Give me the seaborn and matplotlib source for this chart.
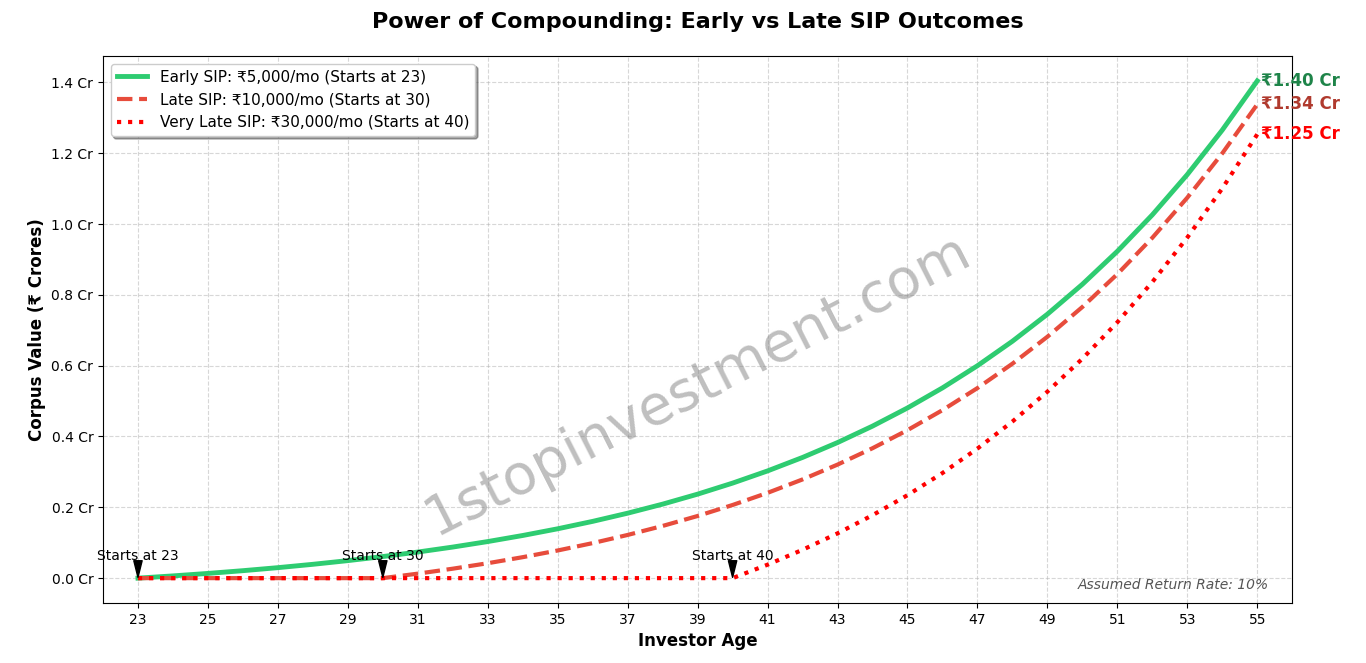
import matplotlib
matplotlib.use("Agg")
import matplotlib.pyplot as plt
import seaborn as sns
import pandas as pd

ages = list(range(23, 56))

early_sip = [0.0, 0.00634, 0.01333, 0.02106, 0.02961, 0.03904, 0.04946, 0.06098,
             0.07370, 0.08775, 0.10328, 0.12043, 0.13937, 0.16030, 0.18342, 0.20896,
             0.23718, 0.26835, 0.30278, 0.34082, 0.38285, 0.42927, 0.48056, 0.53721,
             0.59980, 0.66894, 0.74532, 0.82971, 0.92292, 1.02590, 1.13966, 1.26533,
             1.40416]

late_sip = [0.0, 0.0, 0.0, 0.0, 0.0, 0.0, 0.0, 0.0,
            0.01267, 0.02667, 0.04213, 0.05921, 0.07808, 0.09893, 0.12196, 0.14740,
            0.17550, 0.20655, 0.24085, 0.27874, 0.32060, 0.36684, 0.41792, 0.47436,
            0.53670, 0.60557, 0.68165, 0.76570, 0.85854, 0.96111, 1.07443, 1.19960,
            1.33789]

very_late_sip = [0.0] * 18 + [0.03801, 0.08000, 0.12639, 0.17764, 0.23425, 0.29679,
                              0.36587, 0.44220, 0.52651, 0.61965, 0.72255, 0.83622,
                              0.96179, 1.10051, 1.25325]

series_labels = ["Early SIP: ₹5,000/mo (Starts at 23)",
                 "Late SIP: ₹10,000/mo (Starts at 30)",
                 "Very Late SIP: ₹30,000/mo (Starts at 40)"]
start_ages = [23, 30, 40]
end_labels = ["₹1.40 Cr", "₹1.34 Cr", "₹1.25 Cr"]
x_ticks = list(range(23, 56, 2))
y_ticks = [0.0, 0.2, 0.4, 0.6, 0.8, 1.0, 1.2, 1.4]

line_colors = ["#2ecc71", "#e74c3c", "#ff0000"]
text_colors = ["#1e8449", "#b03a2e", "#ff0000"]
line_styles = ["-", "--", ":"]
line_widths = [3.5, 3.0, 3.0]

df = pd.DataFrame({"age": ages, "early": early_sip, "late": late_sip, "vlate": very_late_sip})

fig, ax = plt.subplots(figsize=(13.66, 6.63), dpi=100)
fig.subplots_adjust(left=0.0754, right=0.946, top=0.9155, bottom=0.0905)

cols = ["early", "late", "vlate"]
for col, lab, c, ls, lw in zip(cols, series_labels, line_colors, line_styles, line_widths):
    sns.lineplot(data=df, x="age", y=col, ax=ax, color=c, linestyle=ls, linewidth=lw, label=lab)

for sa in start_ages:
    ax.annotate(f"Starts at {sa}", xy=(sa, 0), xytext=(sa, 0.05),
                ha="center", fontsize=10,
                arrowprops=dict(facecolor="black", shrink=0.05, width=1, headwidth=6))

for col, lab, c in zip(cols, end_labels, text_colors):
    ax.text(55.1, df[col].iloc[-1], lab, color=c, fontsize=12, fontweight="bold", va="center")

ax.text(0.5, 0.4, "1stopinvestment.com", transform=ax.transAxes, fontsize=40,
        color="gray", alpha=0.5, rotation=27, ha="center", va="center")
ax.text(0.98, 0.02, "Assumed Return Rate: 10%", transform=ax.transAxes, fontsize=10,
        style="italic", color="#555555", ha="right", va="bottom")

ax.set_xlim(22, 56)
ax.set_xticks(x_ticks)
ax.set_yticks(y_ticks)
ax.set_yticklabels([f"{v:.1f} Cr" for v in y_ticks])
ax.grid(True, linestyle="--", alpha=0.5)
ax.set_title("Power of Compounding: Early vs Late SIP Outcomes", fontsize=16, fontweight="bold", pad=20)
ax.set_xlabel("Investor Age", fontsize=12, fontweight="bold")
ax.set_ylabel("Corpus Value (₹ Crores)", fontsize=12, fontweight="bold")
ax.legend(loc="upper left", fontsize=11, shadow=True, fancybox=True)

fig.savefig("out.png", dpi=100)
